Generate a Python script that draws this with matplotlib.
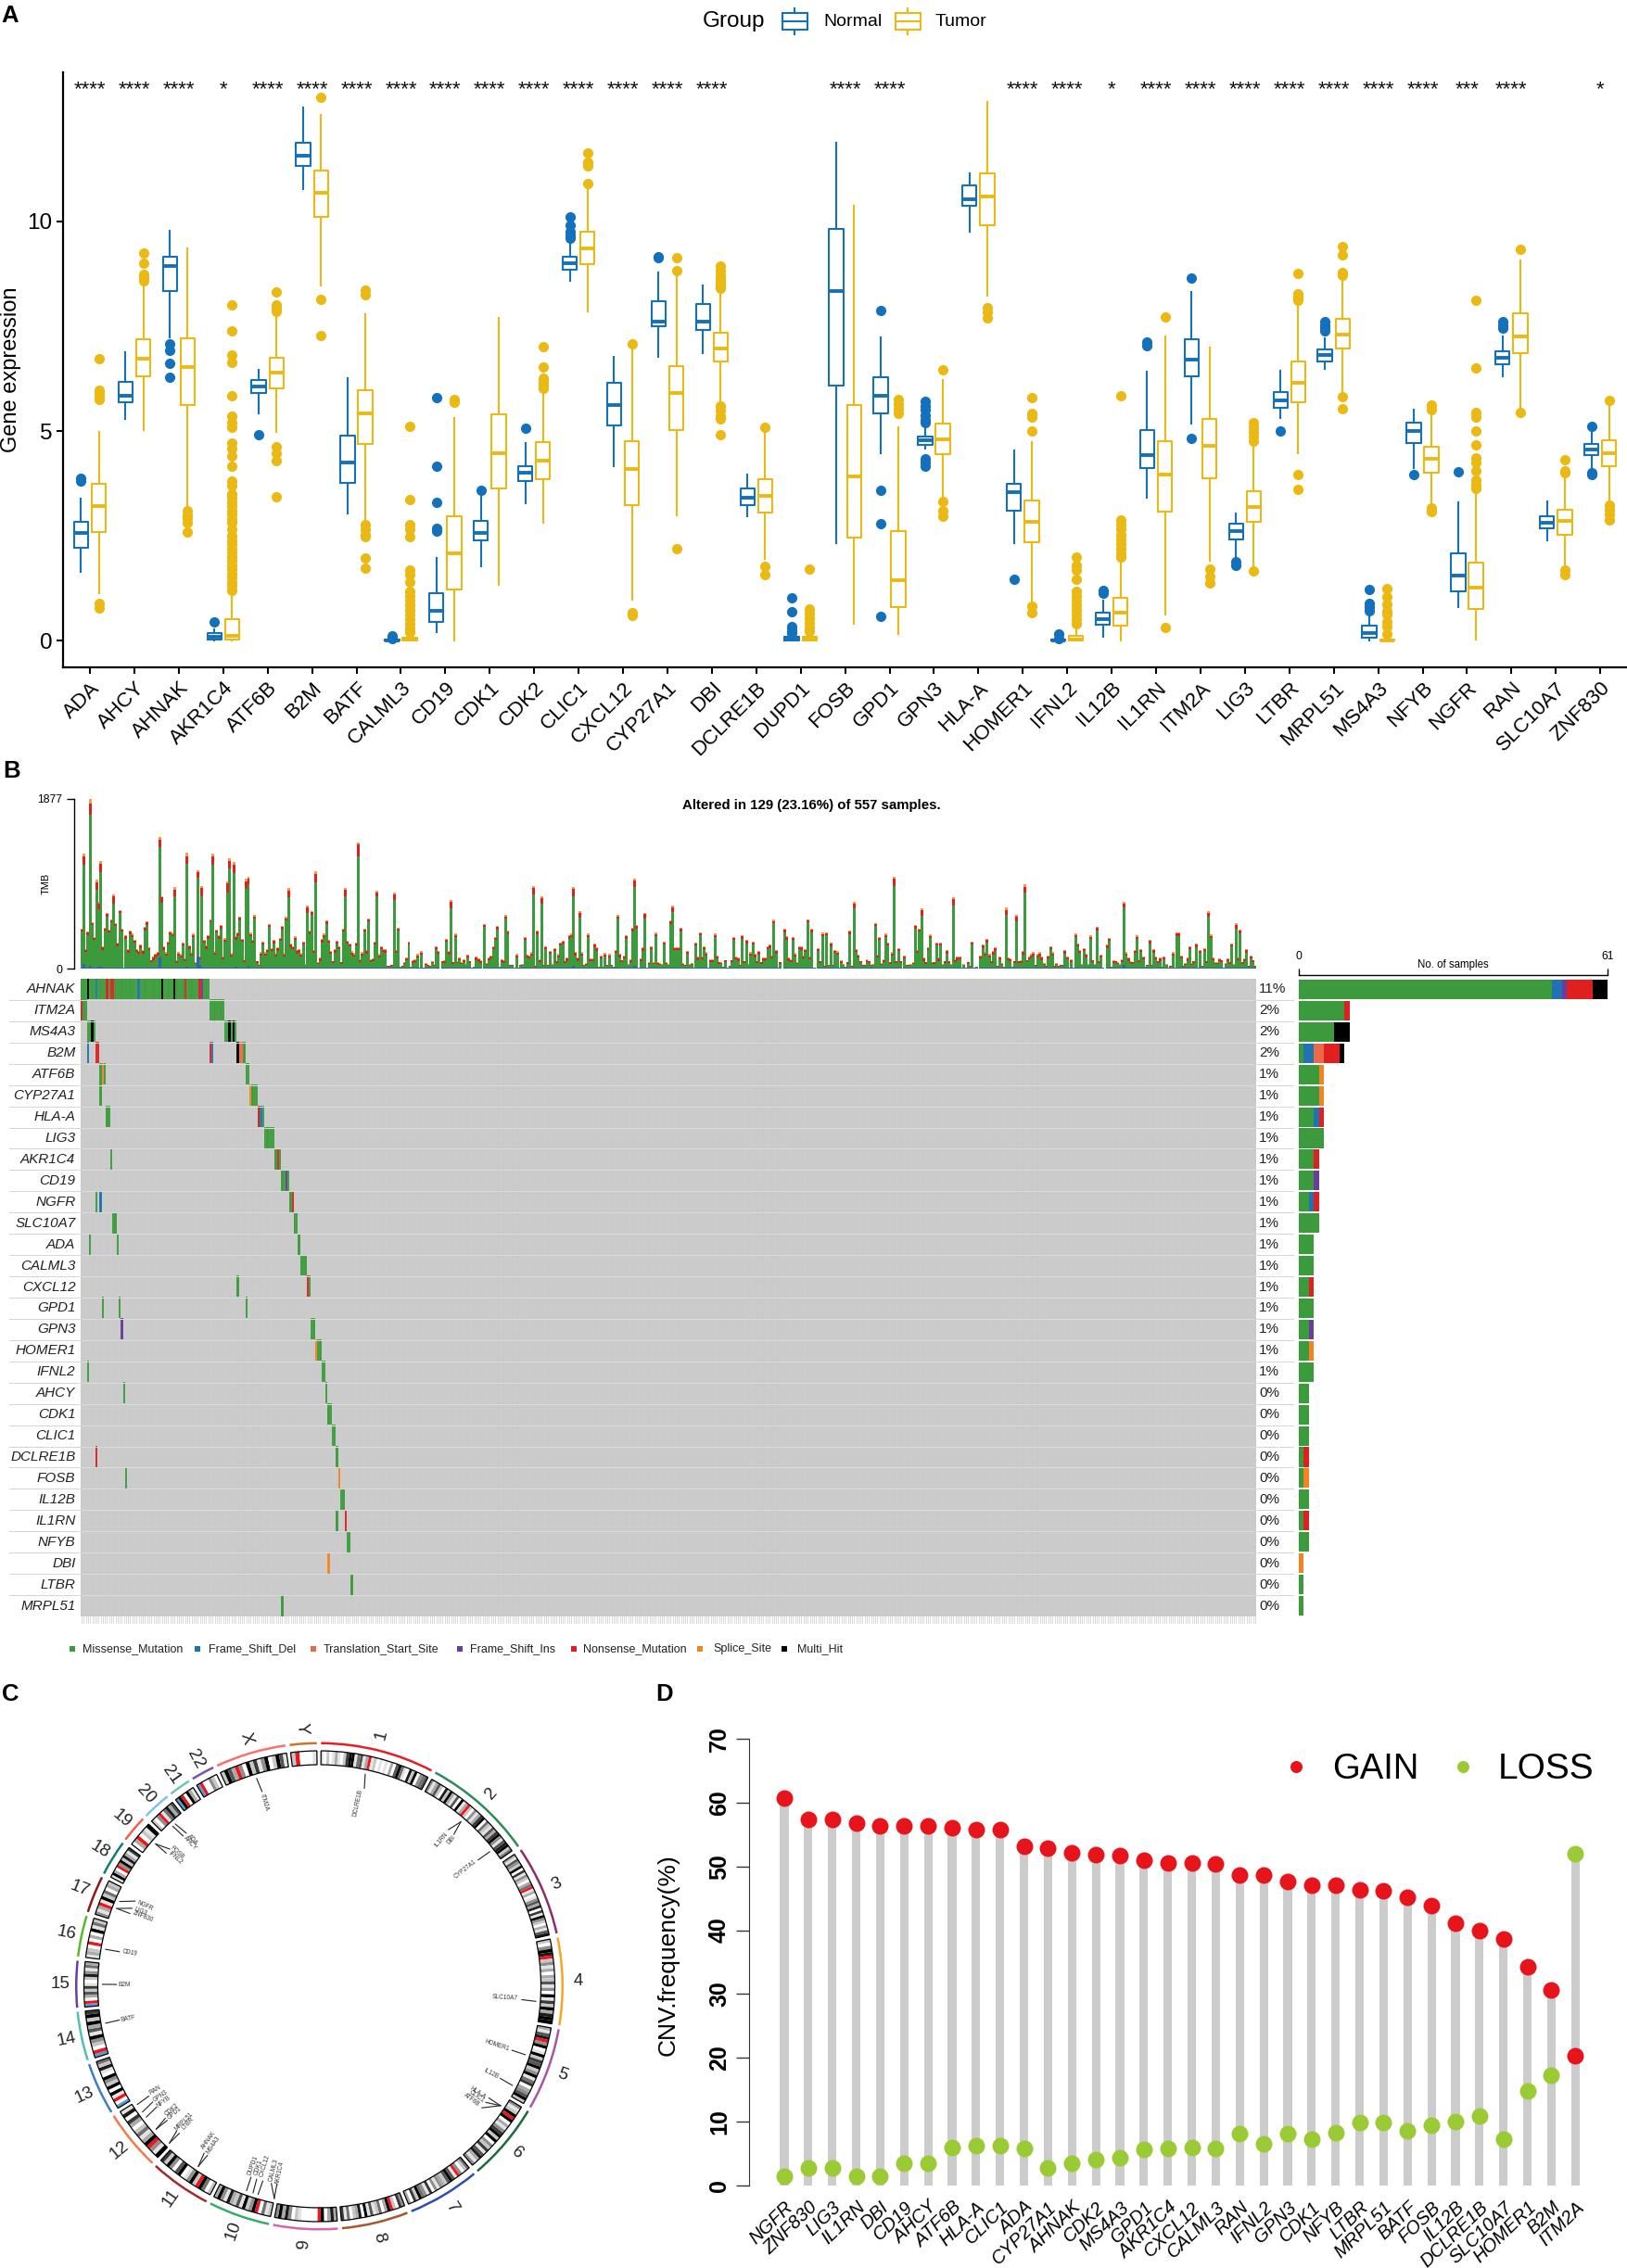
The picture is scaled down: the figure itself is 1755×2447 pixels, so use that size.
import numpy as np
import matplotlib
matplotlib.use("Agg")
from matplotlib import pyplot as plt
from matplotlib.colors import ListedColormap
from matplotlib.patches import Wedge, Rectangle
from matplotlib.transforms import ScaledTranslation

plt.rcParams['font.family'] = ['Liberation Sans', 'DejaVu Sans']

W, H = 1755, 2447

# ---- panel A data: (whisker low, q1, median, q3, whisker high) ----
GENES_A = ['ADA', 'AHCY', 'AHNAK', 'AKR1C4', 'ATF6B', 'B2M', 'BATF', 'CALML3', 'CD19', 'CDK1', 'CDK2', 'CLIC1',
           'CXCL12', 'CYP27A1', 'DBI', 'DCLRE1B', 'DUPD1', 'FOSB', 'GPD1', 'GPN3', 'HLA-A', 'HOMER1', 'IFNL2',
           'IL12B', 'IL1RN', 'ITM2A', 'LIG3', 'LTBR', 'MRPL51', 'MS4A3', 'NFYB', 'NGFR', 'RAN', 'SLC10A7', 'ZNF830']
SIG_A = ['****', '****', '****', '*', '****', '****', '****', '****', '****', '****', '****', '****',
         '****', '****', '****', '', '', '****', '****', '', '', '****', '****',
         '*', '****', '****', '****', '****', '****', '****', '****', '***', '****', '', '*']

NORMAL_STATS = [
    (1.63, 2.22, 2.57, 2.84, 3.38), (5.29, 5.68, 5.84, 6.18, 6.89), (7.23, 8.35, 8.93, 9.15, 9.77),
    (0, 0.03, 0.10, 0.17, 0.27), (5.42, 5.90, 6.06, 6.22, 6.45), (10.77, 11.32, 11.58, 11.89, 12.71),
    (3.04, 3.76, 4.24, 4.90, 6.27), (0, 0, 0.01, 0.03, 0.03), (0.19, 0.45, 0.70, 1.14, 1.97),
    (1.78, 2.40, 2.57, 2.85, 3.44), (3.27, 3.81, 4.00, 4.17, 4.71), (8.59, 8.86, 9.00, 9.15, 9.55),
    (4.16, 5.14, 5.61, 6.14, 6.76), (6.78, 7.50, 7.61, 8.10, 8.79), (6.86, 7.42, 7.62, 8.04, 8.47),
    (2.96, 3.24, 3.40, 3.64, 3.96), (0, 0, 0.03, 0.10, 0.20), (2.33, 6.09, 8.34, 9.83, 11.87),
    (4.46, 5.42, 5.84, 6.29, 7.23), (4.57, 4.66, 4.77, 4.86, 5.13), (9.75, 10.38, 10.53, 10.87, 11.15),
    (2.33, 3.10, 3.54, 3.73, 4.54), (0, 0, 0.01, 0.03, 0.03), (0.10, 0.37, 0.52, 0.66, 0.95),
    (3.40, 4.11, 4.42, 5.03, 6.41), (5.17, 6.31, 6.71, 7.18, 8.31), (1.97, 2.41, 2.62, 2.78, 3.04),
    (5.31, 5.55, 5.74, 5.93, 6.44), (6.48, 6.65, 6.81, 6.95, 7.21), (0, 0.06, 0.18, 0.35, 0.67),
    (4.12, 4.71, 5.01, 5.19, 5.51), (0.79, 1.18, 1.56, 2.08, 3.29), (6.31, 6.59, 6.74, 6.90, 7.26),
    (2.40, 2.67, 2.82, 2.96, 3.31), (4.12, 4.42, 4.55, 4.68, 4.97)]
TUMOR_STATS = [
    (1.12, 2.60, 3.21, 3.74, 4.97), (5.02, 6.30, 6.72, 7.19, 8.50), (3.16, 5.61, 6.52, 7.22, 9.36),
    (0, 0.02, 0.11, 0.52, 1.18), (4.97, 6.02, 6.40, 6.75, 7.74), (8.47, 10.10, 10.68, 11.21, 12.55),
    (2.82, 4.68, 5.41, 5.97, 7.78), (0, 0, 0.02, 0.07, 0.15), (0, 1.21, 2.08, 2.96, 5.31),
    (1.33, 3.64, 4.48, 5.40, 7.70), (2.82, 3.86, 4.29, 4.74, 5.98), (7.85, 8.99, 9.36, 9.76, 10.79),
    (0.97, 3.22, 4.10, 4.75, 6.95), (2.99, 5.03, 5.90, 6.55, 8.69), (5.74, 6.66, 6.97, 7.35, 8.36),
    (1.95, 3.05, 3.46, 3.85, 4.93), (0, 0, 0.03, 0.09, 0.20), (0.41, 2.45, 3.91, 5.63, 10.37),
    (0.15, 0.79, 1.43, 2.62, 5.08), (3.44, 4.45, 4.80, 5.17, 6.21), (8.24, 9.91, 10.59, 11.15, 12.85),
    (0.95, 2.34, 2.84, 3.34, 4.74), (0, 0, 0.02, 0.11, 0.25), (0, 0.35, 0.66, 1.01, 1.93),
    (0.61, 3.07, 3.95, 4.75, 7.26), (1.91, 3.88, 4.65, 5.29, 7.00), (1.80, 2.83, 3.18, 3.56, 4.71),
    (4.46, 5.69, 6.14, 6.66, 7.99), (5.93, 6.97, 7.31, 7.67, 8.64), (0, 0, 0, 0.02, 0.05),
    (3.24, 4.00, 4.34, 4.62, 5.47), (0.02, 0.76, 1.26, 1.86, 3.50), (5.53, 6.86, 7.25, 7.82, 9.07),
    (1.78, 2.53, 2.85, 3.13, 3.95), (3.33, 4.16, 4.46, 4.77, 5.59)]
NORMAL_FLIERS = [
    [3.87, 3.80], [], [7.09, 6.92, 6.61, 6.28], [0.44], [4.91], [], [], [0.12, 0.05],
    [5.79, 4.16, 3.30, 2.67, 2.61], [3.59], [5.06], [10.1, 9.91, 9.75, 9.66, 9.6], [], [9.17, 9.13], [], [],
    [1.01, 0.69, 0.33, 0.25, 0.18], [], [7.88, 3.59, 2.79, 0.58],
    [5.7, 5.6, 5.5, 5.38, 5.27, 5.19, 4.34, 4.25, 4.17], [], [1.46], [0.16, 0.05], [1.20, 1.12],
    [7.12, 7.03], [8.66, 4.82], [1.88, 1.79], [4.99], [7.62, 7.53, 7.45, 7.40], [1.22, 0.89, 0.80, 0.72],
    [3.97], [4.03], [7.62, 7.53, 7.45], [], [5.11, 4.0, 3.95]]
TUMOR_FLIERS = [
    [6.72, 5.98, 5.92, 5.85, 5.76, 0.89, 0.78], [9.24, 9.0, 8.73, 8.64, 8.59], [3.1, 2.99, 2.93, 2.82, 2.59],
    [8.0, 7.40, 6.81, 6.64, 5.84, 5.36, 5.21, 5.08, 4.71, 4.57, 4.40, 4.15, 3.80, 3.69, 3.5, 3.4, 3.3, 3.2, 3.1,
     3.0, 2.9, 2.8, 2.65, 2.5, 2.4, 2.3, 2.2, 2.1, 2.0, 1.9, 1.8, 1.7, 1.6, 1.5, 1.4, 1.3, 1.2],
    [8.31, 8.0, 7.94, 7.85, 4.63, 4.48, 4.29, 3.44], [12.96, 8.14, 7.29],
    [8.36, 8.25, 2.76, 2.65, 2.53, 2.48, 1.97, 1.72],
    [5.11, 3.36, 2.76, 2.65, 2.48, 1.69, 1.58, 1.40, 1.18, 1.07, 0.96, 0.85, 0.74, 0.63, 0.52, 0.41, 0.3, 0.2],
    [5.76, 5.68], [], [7.02, 6.52, 6.27, 6.18, 6.10, 6.02], [11.64, 11.41, 11.33, 10.9], [7.09, 0.66, 0.59],
    [9.13, 8.83, 2.19], [8.93, 8.82, 8.71, 8.63, 8.54, 8.47, 8.41, 5.59, 5.48, 5.36, 5.28, 4.91],
    [5.09, 1.78, 1.57], [1.71, 0.76, 0.64, 0.53, 0.42, 0.31, 0.22], [],
    [5.76, 5.64, 5.53, 5.42], [6.46, 3.33, 3.10, 2.96], [7.94, 7.83, 7.71], [5.80, 5.42, 5.33, 5.01, 0.81, 0.67],
    [1.99, 1.80, 1.69, 1.46, 1.18, 1.07, 0.96, 0.85, 0.73, 0.62, 0.51, 0.39],
    [5.84, 2.87, 2.76, 2.65, 2.53, 2.42, 2.31, 2.2, 2.08, 1.99], [7.73, 0.31], [1.71, 1.52, 1.38],
    [5.19, 5.08, 4.97, 4.86, 4.76, 1.66], [8.77, 8.28, 8.19, 8.12, 3.95, 3.60], [9.40, 9.20, 8.78, 8.71, 5.81, 5.54],
    [1.23, 1.04, 0.86, 0.72, 0.61, 0.44, 0.33, 0.16], [5.61, 5.52, 3.16, 3.08],
    [8.12, 6.50, 5.45, 5.33, 5.0, 4.66, 4.37, 4.25, 4.04, 3.83, 3.72, 3.64], [9.34, 5.44],
    [4.32, 4.06, 4.0, 1.69, 1.57], [5.74, 3.24, 3.12, 3.01, 2.87]]

# ---- panel B data ----
ONCO_GENES = ['AHNAK', 'ITM2A', 'MS4A3', 'B2M', 'ATF6B', 'CYP27A1', 'HLA-A', 'LIG3', 'AKR1C4', 'CD19', 'NGFR',
              'SLC10A7', 'ADA', 'CALML3', 'CXCL12', 'GPD1', 'GPN3', 'HOMER1', 'IFNL2', 'AHCY', 'CDK1', 'CLIC1',
              'DCLRE1B', 'FOSB', 'IL12B', 'IL1RN', 'NFYB', 'DBI', 'LTBR', 'MRPL51']
ONCO_PCT = ['11%', '2%', '2%', '2%', '1%', '1%', '1%', '1%', '1%', '1%', '1%', '1%', '1%', '1%', '1%', '1%', '1%',
            '1%', '1%', '0%', '0%', '0%', '0%', '0%', '0%', '0%', '0%', '0%', '0%', '0%']
MUT_TYPES = ['Missense_Mutation', 'Frame_Shift_Del', 'Translation_Start_Site', 'Frame_Shift_Ins',
             'Nonsense_Mutation', 'Splice_Site', 'Multi_Hit']
MUT_COLORS = ['#3A9A3C', '#1F73B0', '#E96A48', '#6A3D9A', '#E0201F', '#F58220', '#000000']
# sample numbers per gene; keys are mutation type index, 0 missense ... 6 multi hit
ONCO_CELLS = [
    {0: [0, 1, 2, 4, 5, 6, 8, 9, 10, 11, 13, 16, 17, 18, 19, 20, 21, 22, 23, 24, 25, 26, 28, 29, 30, 31, 32, 33, 34,
         35, 36, 37, 39, 40, 41, 42, 43, 45, 46, 47, 48, 50, 51, 52, 53, 54, 55, 58, 59, 60],
     1: [7, 27], 3: [57], 4: [12, 14, 15, 49, 56], 6: [3, 38, 44]},
    {0: [1, 2, 61, 62, 63, 64, 65, 66, 67], 4: [0]},
    {0: [3, 4, 6, 68, 69, 71, 73], 6: [5, 70, 72]},
    {0: [77], 1: [3, 62], 2: [75, 76], 4: [7, 8, 61], 6: [74]},
    {0: [9, 11, 78, 79], 5: [10]},
    {0: [9, 81, 82, 83], 5: [80]},
    {0: [12, 13, 86], 1: [85], 4: [84]},
    {0: [87, 88, 89, 90, 91]},
    {0: [14, 92, 94], 4: [93]},
    {0: [95, 96, 98], 3: [97]},
    {0: [7, 99], 1: [9], 4: [100]},
    {0: [15, 16, 101, 102]},
    {0: [4, 17, 103]},
    {0: [104, 105, 106]},
    {0: [74, 108], 4: [107]},
    {0: [10, 18, 78]},
    {0: [109, 110], 3: [19]},
    {0: [112, 113], 5: [111]},
    {0: [3, 114, 115]},
    {0: [20, 116]},
    {0: [117, 118]},
    {0: [119, 120]},
    {0: [121], 4: [7]},
    {0: [21], 5: [122]},
    {0: [123, 124]},
    {0: [121], 4: [125]},
    {0: [126, 127]},
    {5: [117]},
    {0: [128]},
    {0: [95]}]

TMB_TOTAL = [
    445, 1275, 220, 410, 1875, 515, 350, 980, 735, 1190, 245, 455, 615, 435, 545, 825, 505, 285, 650, 445,
    15, 370, 215, 420, 385, 320, 220, 200, 265, 205, 460, 520, 240, 95, 130, 165, 185, 1455, 805, 245,
    180, 300, 415, 395, 900, 90, 180, 160, 290, 115, 1280, 255, 180, 385, 70, 1085, 135, 915, 320, 255,
    370, 545, 1275, 190, 435, 370, 480, 135, 335, 965, 1220, 170, 1180, 360, 400, 575, 330, 95, 990, 1020,
    395, 320, 590, 85, 40, 180, 300, 180, 220, 495, 230, 315, 170, 235, 340, 470, 170, 570, 890, 275,
    250, 355, 205, 220, 170, 300, 50, 700, 420, 635, 210, 1075, 70, 120, 325, 385, 530, 320, 200, 85,
    215, 310, 250, 75, 445, 895, 310, 280, 190, 170, 290, 1400, 105, 180, 445, 205, 555, 105, 115, 300,
    865, 160, 250, 220, 215, 35, 35, 40, 845, 210, 455, 25, 35, 70, 125, 300, 25, 90, 105, 160,
    15, 190, 5, 60, 45, 35, 80, 45, 250, 200, 0, 85, 90, 330, 195, 760, 75, 385, 80, 125,
    70, 105, 50, 155, 85, 15, 25, 130, 110, 90, 0, 495, 60, 125, 145, 250, 350, 470, 25, 105,
    90, 590, 420, 40, 40, 10, 160, 15, 45, 50, 350, 155, 145, 180, 915, 35, 420, 105, 795, 40,
    250, 40, 200, 50, 230, 85, 160, 290, 310, 85, 120, 370, 385, 900, 185, 120, 635, 180, 40, 60,
    385, 115, 110, 275, 235, 25, 145, 25, 170, 40, 160, 40, 25, 210, 590, 165, 95, 145, 370, 50,
    105, 450, 1000, 480, 15, 115, 235, 620, 15, 70, 250, 70, 395, 70, 60, 50, 300, 70, 50, 530,
    700, 240, 240, 240, 450, 60, 40, 200, 50, 60, 15, 290, 130, 405, 135, 250, 180, 15, 105, 105,
    385, 145, 75, 70, 25, 95, 10, 35, 95, 350, 135, 120, 40, 370, 85, 315, 50, 180, 300, 165,
    85, 195, 75, 120, 125, 250, 265, 145, 540, 205, 15, 75, 0, 440, 360, 120, 105, 350, 170, 70,
    250, 245, 145, 220, 545, 135, 440, 15, 0, 230, 85, 395, 35, 405, 40, 285, 40, 210, 190, 15,
    90, 50, 25, 75, 420, 35, 735, 220, 155, 85, 40, 40, 105, 85, 40, 50, 505, 155, 350, 60,
    105, 385, 290, 75, 180, 1020, 85, 230, 85, 0, 145, 40, 40, 50, 70, 480, 210, 445, 665, 120,
    75, 240, 375, 70, 75, 290, 120, 290, 50, 85, 205, 85, 50, 785, 105, 130, 135, 15, 50, 15,
    75, 35, 300, 15, 25, 0, 145, 265, 180, 325, 160, 85, 195, 235, 35, 135, 60, 25, 675, 125,
    115, 25, 85, 590, 85, 90, 195, 930, 95, 135, 160, 180, 45, 160, 180, 130, 60, 35, 145, 250,
    180, 35, 60, 35, 45, 45, 205, 135, 15, 105, 15, 385, 280, 210, 50, 230, 165, 50, 365, 95,
    50, 460, 85, 155, 15, 0, 265, 340, 25, 90, 85, 70, 50, 105, 740, 180, 120, 80, 75, 210,
    365, 95, 220, 135, 25, 40, 315, 40, 215, 135, 85, 120, 25, 135, 50, 15, 35, 180, 15, 400,
    400, 145, 35, 60, 120, 250, 60, 85, 275, 15, 210, 35, 230, 85, 635, 375, 125, 70, 70, 115,
    95, 15, 60, 110, 75, 280, 50, 505, 125, 430, 75, 115, 215, 35, 145, 95, 35]
# red and orange tips of the tall bars
TMB_PEAK_SAMPLE = [1, 4, 7, 8, 9, 15, 37, 38, 44, 50, 55, 57, 62, 69, 70, 72, 78, 79, 98, 107, 111, 125, 131, 140,
                   148, 175, 214, 218, 233, 236, 262, 267, 280, 366, 385, 398, 413, 438, 443, 447, 494, 534, 547]
TMB_PEAK_RED = [90, 125, 80, 60, 90, 85, 85, 55, 80, 90, 60, 85, 95, 95, 85, 95, 80, 70, 80, 60, 90, 75, 130, 40,
                60, 70, 65, 60, 75, 55, 75, 50, 50, 50, 85, 60, 70, 55, 45, 65, 45, 45, 40]
TMB_PEAK_SPLICE = [35, 50, 25, 20, 30, 25, 30, 20, 25, 35, 20, 25, 30, 25, 30, 30, 30, 20, 25, 20, 30, 25, 25, 20,
                   25, 25, 25, 20, 20, 15, 25, 15, 20, 15, 25, 20, 20, 25, 20, 25, 20, 20, 20]
TMB_FS_SAMPLE = [1, 4, 8, 9, 37, 55, 56, 29, 50, 73, 79, 233, 262, 494]
TMB_FS_VALUE = [50, 35, 25, 20, 120, 130, 40, 15, 25, 20, 30, 30, 30, 45]

# ---- panel C data ----
CHROM_NAMES = ['1', '2', '3', '4', '5', '6', '7', '8', '9', '10', '11', '12', '13', '14', '15', '16', '17', '18',
               '19', '20', '21', '22', 'X', 'Y']
CHROM_MB = [249, 243, 198, 191, 181, 171, 159, 146, 141, 135, 135, 133, 115, 107, 102, 90, 81, 78, 59, 63, 48, 51,
            155, 59]
CHROM_COLORS = ['#E41F26', '#2E8B57', '#8B2E6B', '#F5A623', '#A855A8', '#1B6B3A', '#2A4FB0', '#A8572A', '#D966A5',
                '#35AD6A', '#A52A2A', '#F4794A', '#3F7FBF', '#4FC0B8', '#6A3FA0', '#5CB82E', '#8B1A1A', '#177A7A',
                '#F0624A', '#7FC4E8', '#6FC8A8', '#7C4FB0', '#F5736A', '#C8762A']
# one digit per band, 0 white to 9 black, r centromere, b stalk
CHROM_BANDS = ['10201310279915613r120101030695108290456', '4136208293160913r2041379052163794168925',
               '31642907142035r1301463807194203168', '20498r24130326140917293899', '3168r490192769249157034692',
               '4129r9031479290427168314', '5204r1696234140714592703', '4702r93052161908320517',
               '38309r0000012048394', '2150r9429162381493', '2059r294109604927', '914r93152037081',
               'b0r190924901825', 'br02491639297', 'br0362710284153', '1320r0309152', '413r1925032',
               '1930r4928317', '03r0219', '204r15836', 'b9r0931', 'br00420', '2963r4092714902961', '2r0001']
# gene name, line outer angle, line inner angle, text angle, text radius
CIRCOS_GENES = [
    ('DCLRE1B', 12.2, 12.8, 12.0, 202), ('IL1RN', 40.7, 39.5, 39.8, 206), ('DBI', 40.7, 41.5, 42.0, 213),
    ('CYP27A1', 51.7, 51.5, 51.4, 202), ('SLC10A7', 94.0, 93.8, 93.6, 201), ('HOMER1', 108.4, 108.4, 108.4, 202),
    ('IL12B', 117.2, 117.0, 117.0, 208), ('HLA-A', 123.4, 123.4, 123.9, 206), ('CLIC1', 123.4, 124.9, 125.0, 207),
    ('ATF6B', 123.4, 126.8, 126.8, 205), ('DUPD1', 199.6, 199.7, 200.2, 206), ('CDK1', 197.8, 198.0, 198.5, 206),
    ('CXCL12', 196.4, 196.2, 196.9, 202), ('CALML3', 192.0, 193.7, 194.0, 204), ('AKR1C4', 192.0, 192.1, 192.0, 206),
    ('AHNAK', 213.9, 214.6, 215.7, 205), ('MS4A3', 213.9, 213.5, 213.8, 206), ('MRPL51', 223.7, 224.6, 225.0, 206),
    ('LTBR', 223.7, 223.6, 223.7, 205), ('CDK2', 228.8, 229.4, 230.1, 208), ('GPD1', 228.8, 228.6, 228.7, 208),
    ('RAN', 237.0, 237.2, 237.6, 210), ('GPN3', 234.6, 235.2, 235.3, 209), ('NFYB', 232.9, 233.4, 233.4, 209),
    ('BATF', 260.2, 260.4, 260.2, 209), ('B2M', 270.5, 270.5, 270.3, 210), ('CD19', 279.8, 279.8, 280.0, 208),
    ('NGFR', 293.0, 294.8, 294.6, 207), ('LIG3', 291.0, 292.6, 292.7, 209), ('ZNF830', 291.0, 291.0, 291.5, 205),
    ('FOSB', 311.0, 312.5, 313.2, 210), ('IFNL2', 311.0, 311.0, 311.5, 208), ('ADA', 318.4, 319.0, 319.2, 209),
    ('AHCY', 317.5, 317.8, 318.0, 208), ('ITM2A', 343.2, 343.6, 343.3, 207)]

# ---- panel D data ----
GENES_D = ['NGFR', 'ZNF830', 'LIG3', 'IL1RN', 'DBI', 'CD19', 'AHCY', 'ATF6B', 'HLA-A', 'CLIC1', 'ADA', 'CYP27A1',
           'AHNAK', 'CDK2', 'MS4A3', 'GPD1', 'AKR1C4', 'CXCL12', 'CALML3', 'RAN', 'IFNL2', 'GPN3', 'CDK1', 'NFYB',
           'LTBR', 'MRPL51', 'BATF', 'FOSB', 'IL12B', 'DCLRE1B', 'SLC10A7', 'HOMER1', 'B2M', 'ITM2A']
CNV_GAIN = [60.7, 57.3, 57.4, 56.8, 56.4, 56.4, 56.4, 56.0, 55.8, 55.8, 53.1, 52.9, 52.2, 51.9, 51.7, 51.0, 50.6,
            50.6, 50.4, 48.6, 48.6, 47.7, 47.0, 47.0, 46.4, 46.2, 45.1, 43.8, 41.1, 39.9, 38.7, 34.3, 30.7, 20.4]
CNV_LOSS = [1.4, 2.8, 2.8, 1.5, 1.4, 3.5, 3.5, 6.0, 6.2, 6.2, 5.8, 2.7, 3.5, 4.0, 4.3, 5.6, 5.8, 6.0, 5.8, 8.1,
            6.6, 8.1, 7.2, 8.3, 9.9, 9.9, 8.5, 9.5, 10.0, 10.9, 7.2, 14.8, 17.3, 52.0]

NORMAL_COLOR = '#1370BC'
TUMOR_COLOR = '#EBB914'


def px_axes(fig, left, top, width, height, **kw):
    return fig.add_axes([left / W, 1 - (top + height) / H, width / W, height / H], **kw)


def box_stats(stats, fliers):
    return [dict(whislo=s[0], q1=s[1], med=s[2], q3=s[3], whishi=s[4], fliers=f) for s, f in zip(stats, fliers)]


def draw_boxes(ax, stats, fliers, positions, color):
    ax.bxp(box_stats(stats, fliers), positions=positions, widths=0.32, showcaps=False, manage_ticks=False,
           boxprops=dict(color=color, linewidth=1.5), whiskerprops=dict(color=color, linewidth=1.5),
           medianprops=dict(color=color, linewidth=2.8, solid_capstyle='butt'),
           flierprops=dict(marker='o', markerfacecolor=color, markeredgecolor=color, markersize=7))


def shift_labels(fig, labels, dx):
    offset = ScaledTranslation(dx / 100, 0, fig.dpi_scale_trans)
    for lbl in labels:
        lbl.set_transform(lbl.get_transform() + offset)


def panel_a(fig, ov):
    ax = px_axes(fig, 68.3, 77.6, 1686.7, 642.4)
    x = np.arange(len(GENES_A))
    draw_boxes(ax, NORMAL_STATS, NORMAL_FLIERS, x - 0.2, NORMAL_COLOR)
    draw_boxes(ax, TUMOR_STATS, TUMOR_FLIERS, x + 0.2, TUMOR_COLOR)
    for i, s in enumerate(SIG_A):
        ax.text(i, 13.15, s, ha='center', va='center', fontsize=16, color='#111111')
    ax.set_xlim(-0.6, 34.6)
    ax.set_ylim(-0.64, 13.57)
    ax.set_xticks(x)
    ax.set_xticklabels(GENES_A, rotation=45, ha='right', va='top', rotation_mode='anchor', fontsize=16)
    shift_labels(fig, ax.get_xticklabels(), 6)
    ax.set_yticks([0, 5, 10])
    ax.tick_params(axis='y', labelsize=17.5, length=5, width=1.5)
    ax.tick_params(axis='x', length=5, width=1.5)
    ov.text(12, 399, 'Gene expression', rotation=90, fontsize=17, ha='center', va='center')
    ax.spines['top'].set_visible(False)
    ax.spines['right'].set_visible(False)
    ax.spines['left'].set_linewidth(1.6)
    ax.spines['bottom'].set_linewidth(1.6)

    # legend keys on top
    ov.text(758, 23, 'Group', fontsize=17.5, va='center', ha='left')
    for left, color, name, tx in [(844, NORMAL_COLOR, 'Normal', 888), (966, TUMOR_COLOR, 'Tumor', 1009)]:
        ov.add_patch(Rectangle((left, 14), 27, 17.6, fill=False, edgecolor=color, lw=1.5))
        ov.plot([left, left + 27], [23, 23], color=color, lw=1.5)
        ov.plot([left + 13.5, left + 13.5], [8.7, 14], color=color, lw=1.5)
        ov.plot([left + 13.5, left + 13.5], [31.6, 36.7], color=color, lw=1.5)
        ov.text(tx, 23, name, fontsize=14, va='center', ha='left')


def panel_b(fig, ov):
    n_samples = len(TMB_TOTAL)
    total = np.array(TMB_TOTAL, dtype=float)
    idx = np.arange(n_samples) + 0.5

    red = np.minimum(25, total * 0.2)
    splice = np.minimum(12, total * 0.08)
    red[TMB_PEAK_SAMPLE] = TMB_PEAK_RED
    splice[TMB_PEAK_SAMPLE] = TMB_PEAK_SPLICE
    fs = np.minimum(8, total)
    fs[TMB_FS_SAMPLE] = TMB_FS_VALUE
    green = np.maximum(total - red - splice - fs, 0)

    ax = px_axes(fig, 87, 862, 1268, 183)
    bar_w = 1.3
    ax.bar(idx, fs, width=bar_w, color='#2F62C0', linewidth=0, zorder=3)
    ax.bar(idx, green, width=bar_w, bottom=fs, color=MUT_COLORS[0], linewidth=0, zorder=2)
    ax.bar(idx, red, width=bar_w, bottom=fs + green, color=MUT_COLORS[4], linewidth=0, zorder=2)
    ax.bar(idx, splice, width=bar_w, bottom=fs + green + red, color='#F99B45', linewidth=0, zorder=1)
    ax.set_xlim(0, n_samples)
    ax.set_ylim(0, 1877)
    ax.set_xticks([])
    ax.set_yticks([0, 1877])
    ax.tick_params(axis='y', labelsize=8.7, length=6, width=1, pad=3)
    for s in ['top', 'right', 'bottom']:
        ax.spines[s].set_visible(False)
    ax.spines['left'].set_position(('outward', 5))
    ax.spines['left'].set_linewidth(1)
    ov.text(50, 953, 'TMB', rotation=90, fontsize=8, ha='center', va='center')
    ov.text(875, 869, 'Altered in 129 (23.16%) of 557 samples.', fontsize=10.8, fontweight='bold', ha='center', va='center')

    # the mutation matrix
    n_genes = len(ONCO_GENES)
    grid = np.full((n_genes, n_samples), 7)
    for r, cells in enumerate(ONCO_CELLS):
        for mtype, samples in cells.items():
            grid[r, samples] = mtype
    cmap = ListedColormap(MUT_COLORS + ['#C9C9C9'])
    mat = px_axes(fig, 87, 1056, 1268, 688)
    mat.imshow(grid, aspect='auto', cmap=cmap, vmin=0, vmax=7, interpolation='nearest',
               extent=[0, n_samples, n_genes, 0])
    mat.vlines(np.arange(1, n_samples), 0, n_genes, colors='white', lw=0.3, alpha=0.25)
    mat.hlines(np.arange(1, n_genes), 0, n_samples, colors='#DADADA', lw=0.8)
    mat.axis('off')

    # little stripes under the matrix
    stripes = px_axes(fig, 87, 1744, 1268, 8)
    stripes.vlines(np.arange(n_samples) + 0.5, 0, 1, colors='#D2D2D2', lw=0.6)
    stripes.set_xlim(0, n_samples)
    stripes.set_ylim(0, 1)
    stripes.axis('off')

    row_h = 688 / n_genes
    for r, (gene, pct) in enumerate(zip(ONCO_GENES, ONCO_PCT)):
        yc = 1056 + row_h * (r + 0.5)
        ov.text(81.5, yc, gene, fontsize=11, style='italic', ha='right', va='center', color='#222222')
        ov.text(1358, yc, pct, fontsize=11, ha='left', va='center', color='#222222')
        if r:
            y = 1056 + row_h * r
            ov.plot([10, 87], [y, y], color='#D5D5D5', lw=0.7)
            ov.plot([1355, 1395], [y, y], color='#D5D5D5', lw=0.7)

    # side bars, stack order same as the legend
    side = px_axes(fig, 1401, 1056, 333, 688)
    for r, cells in enumerate(ONCO_CELLS):
        left = 0
        for mtype in range(len(MUT_TYPES)):
            cnt = len(cells.get(mtype, []))
            if cnt:
                side.barh(r + 0.5, cnt, left=left, height=0.92, color=MUT_COLORS[mtype], linewidth=0)
                left += cnt
    side.set_xlim(0, 61)
    side.set_ylim(n_genes, 0)
    side.set_yticks([])
    side.xaxis.tick_top()
    side.set_xticks([0, 61])
    side.tick_params(axis='x', labelsize=8.7, length=5, width=1, pad=5)
    for s in ['left', 'right', 'bottom']:
        side.spines[s].set_visible(False)
    side.spines['top'].set_position(('outward', 3))
    side.spines['top'].set_linewidth(1)
    ov.text(1567, 1041, 'No. of samples', fontsize=8.3, ha='center', va='center')

    # legend under the matrix
    marks = [78, 213.5, 338, 496, 619, 755, 846]
    texts = [89, 225, 349, 507, 629, 769, 860]
    for mx, tx, name, col in zip(marks, texts, MUT_TYPES, MUT_COLORS):
        ov.add_patch(Rectangle((mx - 3, 1776), 6, 6, color=col, lw=0))
        ov.text(tx, 1779, name, fontsize=9, ha='left', va='center', color='#222222')


def band_color(ch):
    if ch == 'r':
        return '#F0141E'
    if ch == 'b':
        return '#5B9BD5'
    return str(1 - int(ch) / 9)


def panel_c(fig):
    ax = px_axes(fig, 44.5, 1843, 600, 600)
    ax.set_xlim(-300, 300)
    ax.set_ylim(-300, 300)
    ax.axis('off')
    gap = 1.0
    deg_per_mb = (360 - gap * len(CHROM_MB)) / sum(CHROM_MB)
    start = 0.4
    for name, mb, col, bands in zip(CHROM_NAMES, CHROM_MB, CHROM_COLORS, CHROM_BANDS):
        span = mb * deg_per_mb
        end = start + span
        ax.add_patch(Wedge((0, 0), 263.5, 90 - end, 90 - start, width=2.5, facecolor=col, linewidth=0))
        step = span / len(bands)
        for j, ch in enumerate(bands):
            a0 = start + j * step
            ax.add_patch(Wedge((0, 0), 254, 90 - a0 - step, 90 - a0, width=15, facecolor=band_color(ch), linewidth=0))
        ax.add_patch(Wedge((0, 0), 254, 90 - end, 90 - start, width=15, fill=False, edgecolor='black', linewidth=0.9))
        mid = start + span / 2
        rot = 90 - mid if mid < 180 else 270 - mid
        rad = np.radians(mid)
        ax.text(279 * np.sin(rad), 279 * np.cos(rad), name, fontsize=13.5, rotation=rot, rotation_mode='anchor',
                ha='center', va='center', color='#222222')
        start = end + gap

    for gene, a_out, a_in, a_txt, r_txt in CIRCOS_GENES:
        ro, ri = np.radians(a_out), np.radians(a_in)
        ax.plot([234 * np.sin(ro), 219 * np.sin(ri)], [234 * np.cos(ro), 219 * np.cos(ri)], color='#222222', lw=0.8)
        rt = np.radians(a_txt)
        rot = 90 - a_txt if a_txt < 180 else 270 - a_txt
        ax.text(r_txt * np.sin(rt), r_txt * np.cos(rt), gene, fontsize=4.7, rotation=rot, rotation_mode='anchor',
                ha='center', va='center', color='#333333')


def panel_d(fig, ov):
    ax = px_axes(fig, 807.5, 1876, 912.5, 482)
    x = np.arange(len(GENES_D))
    top = np.maximum(CNV_GAIN, CNV_LOSS)
    ax.bar(x, top, width=0.35, color='#CCCCCC', linewidth=0, zorder=1)
    ax.scatter(x, CNV_GAIN, s=168, color='#E8141C', linewidth=0, zorder=3, clip_on=False)
    ax.scatter(x, CNV_LOSS, s=168, color='#9ACB34', linewidth=0, zorder=3, clip_on=False)
    ax.set_xlim(-1.489, 33.8)
    ax.set_ylim(0, 70)
    ax.set_yticks(np.arange(0, 71, 10))
    ax.set_yticklabels(np.arange(0, 71, 10), rotation=90, va='center', fontsize=18, fontweight='bold')
    ax.tick_params(axis='y', length=10, width=1, pad=4, color='#333333')
    ax.set_xticks(x)
    ax.set_xticklabels(GENES_D, rotation=44, ha='right', va='top', rotation_mode='anchor', fontsize=14.5, style='italic')
    shift_labels(fig, ax.get_xticklabels(), 6)
    ax.tick_params(axis='x', length=0, pad=10)
    for s in ['top', 'right', 'bottom']:
        ax.spines[s].set_visible(False)
    ax.spines['left'].set_color('#333333')
    ov.text(721, 2109, 'CNV.frequency(%)', rotation=90, fontsize=19, ha='center', va='center')

    ov.scatter([1398.5], [1906], s=88, color='#E8141C', linewidth=0)
    ov.scatter([1578], [1906], s=88, color='#9ACB34', linewidth=0)
    ov.text(1437, 1909, 'GAIN', fontsize=27.5, ha='left', va='center')
    ov.text(1616, 1909, 'LOSS', fontsize=28, ha='left', va='center')


def main():
    fig = plt.figure(figsize=(W / 100, H / 100), dpi=100)
    panel_c(fig)
    # overlay in picture pixels for legends and free text
    ov = fig.add_axes([0, 0, 1, 1], zorder=5)
    ov.set_xlim(0, W)
    ov.set_ylim(H, 0)
    ov.axis('off')
    ov.patch.set_alpha(0)

    panel_a(fig, ov)
    panel_b(fig, ov)
    panel_d(fig, ov)
    ov.set_xlim(0, W)
    ov.set_ylim(H, 0)

    for letter, x, y in [('A', 1, 17), ('B', 3, 832), ('C', 2, 1828), ('D', 707, 1828)]:
        ov.text(x, y, letter, fontsize=18.5, fontweight='bold', ha='left', va='center')

    fig.savefig('out.png', dpi=100)


if __name__ == "__main__":
    main()
